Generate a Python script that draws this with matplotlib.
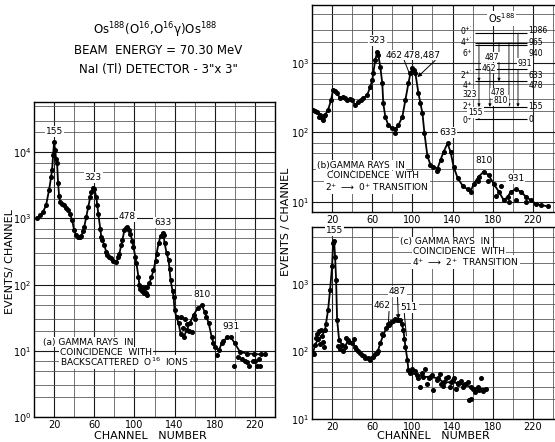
import numpy as np
import matplotlib
matplotlib.use("Agg")
import matplotlib.pyplot as plt
from matplotlib.ticker import LogLocator, NullFormatter, MultipleLocator

plt.rcParams['font.family'] = ['DejaVu Sans']
plt.rcParams['font.size'] = 7
plt.rcParams['mathtext.default'] = 'regular'

tick_ch = [20, 60, 100, 140, 180, 220]

# (a) gamma rays in coincidence with backscattered O16 ions
a_ch = [3, 6, 9, 12, 15, 17, 18, 19, 20, 21, 22, 23, 24, 25, 26, 28, 30, 32, 34, 36,
        38, 40, 42, 44, 46, 47, 49, 50, 52, 54, 56, 57, 59, 60, 62, 63, 64, 66, 67, 68,
        70, 72, 73, 75, 77, 79, 82, 84, 85, 87, 88, 90, 92, 93, 95, 96, 98, 99, 101, 102,
        104, 105, 107, 109, 111, 113, 115, 117, 119, 121, 122, 124, 126, 128, 129, 130, 132, 134, 135, 136,
        138, 139, 140, 142, 144, 146, 149, 152, 155, 159, 163, 167, 170, 174, 177, 180, 184, 187, 192, 196,
        200, 205, 212, 219, 226, 230]
a_cnt = [1000, 1120, 1260, 1580, 2690, 4200, 5400, 9000, 14300, 11000, 8000, 6800, 3400, 2200, 1780, 1650, 1580, 1450, 1320, 1150,
         940, 660, 560, 525, 530, 540, 640, 745, 1050, 1490, 2100, 2500, 2930, 2800, 2130, 1600, 1180, 700, 525, 470,
         395, 310, 280, 260, 250, 230, 220, 260, 295, 400, 470, 660, 730, 745, 680, 590, 450, 370, 260, 210,
         132, 98, 92, 90, 88, 92, 105, 130, 165, 230, 290, 420, 540, 600, 560, 430, 300, 235, 170, 117,
         80, 66, 41, 32, 26, 18, 16, 20.5, 26, 35, 44, 49, 39, 26, 16, 11.5, 10.2, 13, 16, 16,
         13, 9.7, 9.1, 9.0, 8.8, 8.8]
a_x_ch = [106, 108, 110, 112, 113, 146, 148, 150, 152, 154, 157, 160, 171, 178, 182, 188,
          199, 203, 207, 210, 212, 214, 218, 220, 222, 224, 225]
a_x_cnt = [85, 80, 75, 74, 70, 33, 22, 30, 25, 20, 19, 30, 33, 13, 8.5, 14,
           5.8, 8, 7.5, 7, 6.8, 5.8, 7, 7, 6, 7.5, 5.8]
a_peak_ch = [20, 59, 93, 128, 167, 196]
a_peak_cnt = [14300, 2930, 745, 600, 49, 16]
a_peak_lbl = ['155', '323', '478', '633', '810', '931']

# (b) gamma rays in coincidence with 2+ -> 0+ transition
b_ch = [1, 3, 5, 8, 10, 12, 13, 16, 19, 21, 23, 25, 28, 31, 33, 35, 38, 40, 43, 46,
        49, 51, 55, 58, 60, 61, 63, 65, 66, 68, 70, 71, 73, 76, 80, 83, 86, 90, 93, 96,
        98, 100, 102, 103, 106, 108, 110, 112, 115, 118, 121, 125, 128, 131, 135, 138, 141, 145, 150, 155,
        158, 161, 166, 171, 176, 181, 186, 191, 195, 198, 203, 208, 213, 218, 223, 228, 235]
b_cnt = [209, 200, 197, 177, 159, 170, 177, 209, 290, 405, 390, 363, 307, 325, 310, 290, 300, 290, 245, 275,
         295, 307, 343, 450, 560, 700, 1100, 1440, 1300, 875, 505, 260, 167, 126, 114, 110, 126, 167, 290, 505,
         700, 830, 780, 700, 363, 260, 187, 96, 45, 34, 32, 30, 40, 52, 69, 52, 32, 22, 17, 15,
         14, 18, 23, 27, 24, 18, 14, 10.5, 11.8, 14, 15, 14, 11.8, 10.5, 9.3, 8.9, 8.6]
b_x_ch = [7, 11, 83, 124, 165, 175, 183, 188, 196, 203, 213]
b_x_cnt = [165, 150, 96, 28, 20, 20, 12, 17, 10, 10.5, 10]
b_peak_ch = [65, 135, 171, 203]
b_peak_cnt = [1440, 69, 27, 15]
b_peak_lbl = ['323', '633', '810', '931']

# (c) gamma rays in coincidence with 4+ -> 2+ transition
c_ch = [1, 3, 6, 10, 13, 16, 18, 20, 21, 22, 23, 24, 25, 27, 30, 33, 36, 40, 43, 46,
        50, 53, 56, 61, 65, 68, 71, 74, 77, 81, 85, 88, 91, 93, 95, 96, 98, 105, 111, 118,
        125, 131, 138, 145, 151, 158, 165, 173]
c_cnt = [94, 125, 150, 170, 209, 410, 810, 1820, 3980, 4250, 2500, 1150, 295, 148, 125, 118, 148, 132, 118, 100,
         89, 79, 79, 84, 94, 132, 175, 220, 246, 277, 295, 295, 209, 118, 75, 53, 48, 45, 42, 42,
         40, 35, 35, 34, 32, 30, 28, 28]
c_x_ch = [2, 4, 5, 7, 8, 9, 11, 12, 14, 26, 28, 31, 34, 37, 42, 44, 48, 52, 58, 63,
          66, 70, 76, 79, 83, 86, 90, 92, 100, 103, 106, 108, 110, 113, 115, 117, 120, 121, 124, 127,
          128, 130, 133, 135, 137, 140, 141, 143, 145, 148, 150, 152, 155, 156, 158, 160, 162, 165, 166, 168, 170]
c_x_cnt = [90, 160, 180, 200, 130, 210, 140, 115, 250, 120, 110, 100, 160, 140, 150, 110, 95, 85, 75, 90,
           100, 180, 250, 270, 300, 290, 250, 150, 55, 52, 40, 30, 48, 55, 33, 40, 45, 27, 38, 46,
           33, 31, 40, 42, 30, 38, 40, 28, 33, 37, 30, 33, 35, 19, 20, 28, 25, 30, 27, 40, 26]

# Os188 level scheme (keV) and gamma transitions
lvl_e = [0, 155, 478, 633, 940, 965, 1086]
lvl_spin = ['$0^{+}$', '$2^{+}$', '$4^{+}$', "$2^{+\\prime}$", '$6^{+}$', "$4^{+\\prime}$", "$0^{+\\prime}$"]
tr_from = [155, 478, 940, 633, 965, 965, 1086]
tr_to = [0, 155, 478, 155, 478, 155, 155]
tr_lbl = ['155', '323', '462', '478', '487', '810', '931']

fig = plt.figure(figsize=(5.55, 4.42), dpi=100)
W, H = 555, 442


def px_axes(x0, y0, x1, y1):
    return fig.add_axes([x0 / W, 1 - y1 / H, (x1 - x0) / W, (y1 - y0) / H])


def setup(ax, xmax, ylim):
    ax.set_yscale('log')
    ax.set_xlim(0, xmax)
    ax.set_ylim(*ylim)
    ax.set_xticks(tick_ch)
    ax.xaxis.set_minor_locator(MultipleLocator(20))
    ax.yaxis.set_major_locator(LogLocator(base=10, numticks=10))
    ax.yaxis.set_minor_locator(LogLocator(base=10, subs=[2, 3, 5, 7], numticks=10))
    ax.yaxis.set_minor_formatter(NullFormatter())
    ax.tick_params(which='both', length=0, labelsize=7, pad=2)
    ax.grid(True, which='major', color='0.1', linewidth=0.8)
    ax.grid(True, which='minor', color='0.3', linewidth=0.55)
    for s in ax.spines.values():
        s.set_linewidth(1.0)


wb = dict(boxstyle='square,pad=0.1', fc='white', ec='none')
line_kw = dict(color='k', lw=1.3, marker='o', ms=2.6, zorder=3)
dot_kw = dict(color='k', ls='none', marker='o', ms=2.6, zorder=3)

# ---- panel (a)
ax_a = px_axes(34, 102, 275, 417)
setup(ax_a, 240, (1, 10 ** 4.76))
ax_a.plot(a_ch, a_cnt, **line_kw)
ax_a.plot(a_x_ch, a_x_cnt, **dot_kw)
for c, v, l in zip(a_peak_ch, a_peak_cnt, a_peak_lbl):
    ax_a.annotate(l, (c, v), xytext=(0, 7.5), textcoords='offset points',
                  ha='center', va='center', fontsize=6.5, bbox=wb)
ax_a.text(0.037, 0.238, '(a) GAMMA RAYS  IN', transform=ax_a.transAxes, va='center', fontsize=6.5, bbox=wb)
ax_a.text(0.108, 0.206, 'COINCIDENCE  WITH', transform=ax_a.transAxes, va='center', fontsize=6.5, bbox=wb)
ax_a.text(0.108, 0.174, 'BACKSCATTERED  O$^{16}$  IONS', transform=ax_a.transAxes, va='center',
          fontsize=6.5, bbox=wb)

# ---- panel (b)
ax_b = px_axes(312, 5, 557, 212)
setup(ax_b, 244, (10 ** 0.852, 10 ** 3.83))
ax_b.plot(b_ch, b_cnt, **line_kw)
ax_b.plot(b_x_ch, b_x_cnt, **dot_kw)
for c, v, l in zip(b_peak_ch, b_peak_cnt, b_peak_lbl):
    ax_b.annotate(l, (c, v), xytext=(0, 8), textcoords='offset points',
                  ha='center', va='center', fontsize=6.5, bbox=wb)
ax_b.annotate('462', (97, 700), xytext=(82, 1290), ha='center', va='center', fontsize=6.5, bbox=wb,
              arrowprops=dict(arrowstyle='-', lw=0.7, relpos=(1, 0.3), shrinkA=0, shrinkB=0))
ax_b.annotate('478,487', (105, 620), xytext=(110, 1290), ha='center', va='center', fontsize=6.5, bbox=wb,
              arrowprops=dict(arrowstyle='-|>', lw=0.7, mutation_scale=6, relpos=(1, 0.5),
                              shrinkA=0, shrinkB=0, color='k'))
ax_b.text(0.02, 0.227, '(b)GAMMA RAYS  IN', transform=ax_b.transAxes, va='center', fontsize=6.5, bbox=wb)
ax_b.text(0.061, 0.174, 'COINCIDENCE  WITH', transform=ax_b.transAxes, va='center', fontsize=6.5, bbox=wb)
ax_b.text(0.053, 0.121, r'2$^{+}$ $\longrightarrow$ 0$^{+}$ TRANSITION', transform=ax_b.transAxes,
          va='center', fontsize=6.5, bbox=wb)

# level scheme inset
ins = ax_b.inset_axes([0.612, 0.435, 0.339, 0.444])
ins.set_xlim(0, 1)
ins.set_ylim(-35, 1125)
ins.axis('off')
ins.patch.set_alpha(0)
ins.hlines(lvl_e, 0.16, 0.78, color='k', lw=0.8)
lbl_dy = [-0.5, 0.5, -3, -4.5, -6, 0.5, 2]
for e, s, dy in zip(lvl_e, lvl_spin, lbl_dy):
    ins.annotate(s, (0.13, e), xytext=(0, dy), textcoords='offset points',
                 ha='right', va='center', fontsize=5.5)
    ins.annotate(str(e), (0.8, e), xytext=(0, dy), textcoords='offset points',
                 ha='left', va='center', fontsize=5.5)
tr_x = [0.205, 0.205, 0.205, 0.337, 0.446, 0.566, 0.675]
tr_lfrac = [0.55, 0.5, 0.36, 0.37, 0.63, 0.1, 0.59]
tr_lx = [-2.5, -7, 7, 6, -5, -6, 5]
for x, e1, e0, l, f, dx in zip(tr_x, tr_from, tr_to, tr_lbl, tr_lfrac, tr_lx):
    ins.annotate('', (x, e0), xytext=(x, e1),
                 arrowprops=dict(arrowstyle='-|>', lw=0.6, mutation_scale=4, color='k',
                                 shrinkA=0, shrinkB=0))
    ins.annotate(l, (x, e0 + f * (e1 - e0)), xytext=(dx, 0), textcoords='offset points',
                 ha='center', va='center', fontsize=5.5, bbox=wb)
ins.text(0.48, 1270, 'Os$^{188}$', ha='center', va='center', fontsize=7, bbox=wb)

# ---- panel (c)
ax_c = px_axes(312, 227, 557, 419)
setup(ax_c, 244, (10, 10 ** 3.84))
ax_c.plot(c_ch, c_cnt, **line_kw)
ax_c.plot(c_x_ch, c_x_cnt, **dot_kw)
ax_c.annotate('155', (22, 4250), xytext=(0, 7.5), textcoords='offset points',
              ha='center', va='center', fontsize=6.5, bbox=wb)
ax_c.annotate('487', (86, 300), xytext=(85, 760), ha='center', va='center', fontsize=6.5, bbox=wb,
              arrowprops=dict(arrowstyle='-|>', lw=0.7, mutation_scale=6, color='k',
                              shrinkA=0, shrinkB=0))
ax_c.annotate('462', (76, 250), xytext=(70, 470), ha='center', va='center', fontsize=6.5, bbox=wb,
              arrowprops=dict(arrowstyle='-', lw=0.7, relpos=(0.9, 0), shrinkA=0, shrinkB=0))
ax_c.annotate('511', (94, 170), xytext=(97, 440), ha='center', va='center', fontsize=6.5, bbox=wb,
              arrowprops=dict(arrowstyle='-', lw=0.7, relpos=(0.2, 0), shrinkA=0, shrinkB=0))
ax_c.text(0.359, 0.922, '(c) GAMMA RAYS  IN', transform=ax_c.transAxes, va='center', fontsize=6.5, bbox=wb)
ax_c.text(0.412, 0.870, 'COINCIDENCE  WITH', transform=ax_c.transAxes, va='center', fontsize=6.5, bbox=wb)
ax_c.text(0.408, 0.818, r'4$^{+}$ $\longrightarrow$ 2$^{+}$  TRANSITION', transform=ax_c.transAxes,
          va='center', fontsize=6.5, bbox=wb)

# ---- figure texts
fig.text(155 / W, 1 - 30 / H, r'Os$^{188}$(O$^{16}$,O$^{16}\gamma$)Os$^{188}$', ha='center', va='center', fontsize=8.5)
fig.text(158 / W, 1 - 50 / H, 'BEAM  ENERGY = 70.30 MeV', ha='center', va='center', fontsize=8.5)
fig.text(158 / W, 1 - 69 / H, 'NaI (Tl) DETECTOR - 3"x 3"', ha='center', va='center', fontsize=8.5)
fig.text(10 / W, 1 - 262 / H, 'EVENTS/ CHANNEL', rotation=90, ha='center', va='center', fontsize=8)
fig.text(286 / W, 1 - 222 / H, 'EVENTS / CHANNEL', rotation=90, ha='center', va='center', fontsize=8)
fig.text(150 / W, 1 - 436 / H, 'CHANNEL   NUMBER', ha='center', va='center', fontsize=8)
fig.text(433 / W, 1 - 436 / H, 'CHANNEL   NUMBER', ha='center', va='center', fontsize=8)

fig.savefig('out.png', dpi=100)
